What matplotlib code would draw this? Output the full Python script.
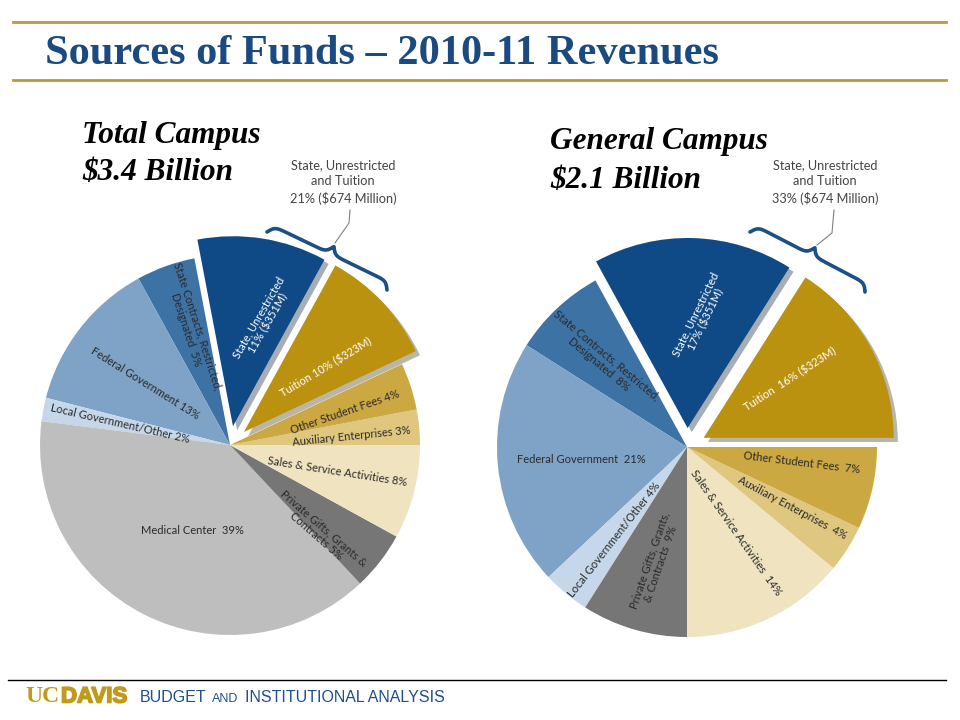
import numpy as np
import matplotlib.pyplot as plt
import matplotlib.patheffects as pe
from matplotlib.patches import Shadow

# slices go counterclockwise starting at 3 o'clock
total_names = ['Auxiliary Enterprises', 'Other Student Fees', 'Tuition', 'State, Unrestricted',
               'State Contracts', 'Federal Government', 'Local Government/Other',
               'Medical Center', 'Private Gifts', 'Sales & Service Activities']
total_pct = [3, 4, 10, 11, 5, 13, 2, 39, 5, 8]
total_text = ['Auxiliary Enterprises 3%', 'Other Student Fees 4%', 'Tuition 10% ($323M)',
              'State, Unrestricted\n11% ($351M)', 'State Contracts, Restricted,\nDesignated  5%',
              'Federal Government 13%', 'Local Government/Other 2%', 'Medical Center  39%',
              'Private Gifts, Grants &\nContracts 5%', 'Sales & Service Activities 8%']

general_names = ['Tuition', 'State, Unrestricted', 'State Contracts', 'Federal Government',
                 'Local Government/Other', 'Private Gifts', 'Sales & Service Activities',
                 'Auxiliary Enterprises', 'Other Student Fees']
general_pct = [16, 17, 8, 21, 4, 9, 14, 4, 7]
general_text = ['Tuition  16% ($323M)', 'State, Unrestricted\n17% ($351M)',
                'State Contracts, Restricted,\nDesignated  8%', 'Federal Government  21%',
                'Local Government/Other 4%', 'Private Gifts, Grants,\n& Contracts  9%',
                'Sales & Service Activities  14%', 'Auxiliary Enterprises  4%',
                'Other Student Fees  7%']

total_note = 'State, Unrestricted\nand Tuition\n21% ($674 Million)'
general_note = 'State, Unrestricted\nand Tuition\n33% ($674 Million)'

colores = {
    'State, Unrestricted': '#0f4a87',
    'Tuition': '#bb9110',
    'Other Student Fees': '#cca842',
    'Auxiliary Enterprises': '#dfc77f',
    'Sales & Service Activities': '#efe4bf',
    'Private Gifts': '#767676',
    'Medical Center': '#bebebe',
    'Local Government/Other': '#c5d7e8',
    'Federal Government': '#7ea3c6',
    'State Contracts': '#3d72a4',
}
blancos = ['State, Unrestricted', 'Tuition']

# label placement: (angle deg, fraction of radius, rotation)
total_pos = [(4, 0.64, 6), (16, 0.63, 19), (39, 0.65, 31), (75, 0.68, 60), (108, 0.65, -72),
             (144, 0.55, -32), (169, 0.59, -13), (246.5, 0.49, 0), (-44, 0.66, -41), (-14, 0.58, -9)]
general_pos = [(33, 0.65, 33), (84, 0.69, 64), (134, 0.64, -40), (187, 0.56, 0), (232, 0.62, 52),
               (254.6, 0.63, 71), (-60, 0.52, -55), (-30, 0.64, -28), (-8, 0.61, -7)]

H = 720
R = 190
FUENTE = 'Lato'


def Y(y):
    return H - y


def dibujar_pie(ax, valores, nombres, textos, posiciones, centro):
    cx, cy = centro[0], Y(centro[1])
    explode = [19 if n in blancos else 0 for n in nombres]
    wedges, _ = ax.pie(valores, colors=[colores[n] for n in nombres], startangle=0,
                       counterclock=True, radius=R, center=(cx, cy), explode=explode,
                       wedgeprops=dict(linewidth=0), frame=False)
    for w, n in zip(wedges, nombres):
        w.set_zorder(2)
        if n in blancos:
            s = Shadow(w, 3, -3, alpha=0.35, zorder=1)
            ax.add_patch(s)
    for txt, n, (ang, rf, rot) in zip(textos, nombres, posiciones):
        a = np.radians(ang)
        x = cx + rf * R * np.cos(a)
        y = cy + rf * R * np.sin(a)
        color = 'white' if n in blancos else '#2a2a2a'
        ax.text(x, y, txt, ha='center', va='center', rotation=rot, rotation_mode='anchor',
                fontsize=8, color=color, family=FUENTE, linespacing=1.05, zorder=5)


def llave(ax, p1, p2, centro, depth=16, color='#1b4f85'):
    p1 = np.array([p1[0], Y(p1[1])], float)
    p2 = np.array([p2[0], Y(p2[1])], float)
    c = np.array([centro[0], Y(centro[1])], float)
    v = p2 - p1
    L = np.hypot(*v)
    u = v / L
    n = np.array([-u[1], u[0]])
    if np.dot((p1 + p2) / 2 - c, n) < 0:
        n = -n
    t = np.linspace(0, L / 2, 150)
    beta = 0.4
    yh = 1 / (1 + np.exp(-beta * (t - t[0]))) + 1 / (1 + np.exp(-beta * (t - t[-1]))) - 0.5
    xs = np.concatenate([t, L - t[::-1][1:]])
    ys = np.concatenate([yh, yh[::-1][1:]])
    pts = p1[None, :] + xs[:, None] * u[None, :] + depth * ys[:, None] * n[None, :]
    ax.plot(pts[:, 0], pts[:, 1], color=color, lw=2.6, solid_capstyle='round', zorder=6)


def main():
    fig = plt.figure(figsize=(9.6, 7.2), dpi=100)
    ax = fig.add_axes([0, 0, 1, 1])

    dibujar_pie(ax, total_pct, total_names, total_text, total_pos, (230, 445))
    dibujar_pie(ax, general_pct, general_names, general_text, general_pos, (687, 447))

    ax.set_xlim(0, 960)
    ax.set_ylim(0, H)
    ax.set_aspect('auto')
    ax.axis('off')

    # header
    oro = '#b89a3e'
    ax.plot([13, 946], [Y(22), Y(22)], color=oro, lw=2)
    ax.plot([13, 946], [Y(80), Y(80)], color=oro, lw=2)
    ax.text(45, Y(54), 'Sources of Funds \u2013 2010-11 Revenues', fontsize=30.5, fontweight='bold',
            family='Liberation Serif', color='#1b4a80', ha='left', va='center')

    sub = dict(fontsize=22.5, fontweight='bold', style='italic', family='Liberation Serif',
               color='black', ha='left', va='center')
    ax.text(82, Y(135), 'Total Campus', **sub)
    ax.text(82, Y(173), '$3.4 Billion', **sub)
    ax.text(550, Y(142), 'General Campus', **sub)
    ax.text(550, Y(180), '$2.1 Billion', **sub)

    # notes with braces
    nota = dict(fontsize=9.2, family=FUENTE, color='#444444', ha='center', va='center',
                linespacing=1.4)
    ax.text(343, Y(182), total_note, **nota)
    ax.text(825, Y(182), general_note, **nota)
    ax.plot([350, 349, 335], [Y(210), Y(223), Y(243)], color='#808080', lw=0.8)
    ax.plot([834, 832, 817], [Y(210), Y(233), Y(245)], color='#808080', lw=0.8)
    llave(ax, (267, 232), (387, 290), (230, 445))
    llave(ax, (750, 232), (865, 292), (687, 447))

    # footer
    ax.plot([8, 946], [Y(680), Y(680)], color='black', lw=1)
    dorado = '#c19a1b'
    ax.text(25, Y(697), 'UC', fontsize=17, fontweight='bold', family='Liberation Serif',
            color=dorado, ha='left', va='center')
    ax.text(61, Y(697), 'DAVIS', fontsize=16, fontweight='bold', family='Liberation Sans',
            color=dorado, ha='left', va='center',
            path_effects=[pe.withStroke(linewidth=1.2, foreground=dorado)])
    azul = '#1f4e8c'
    ax.text(140, Y(698), 'BUDGET', fontsize=11.5, family='Liberation Sans', color=azul,
            ha='left', va='center')
    ax.text(212, Y(699), 'AND', fontsize=9, family='Liberation Sans', color=azul,
            ha='left', va='center')
    ax.text(245, Y(698), 'INSTITUTIONAL ANALYSIS', fontsize=11.5, family='Liberation Sans',
            color=azul, ha='left', va='center')

    fig.savefig('out.png', dpi=100)


if __name__ == '__main__':
    main()
